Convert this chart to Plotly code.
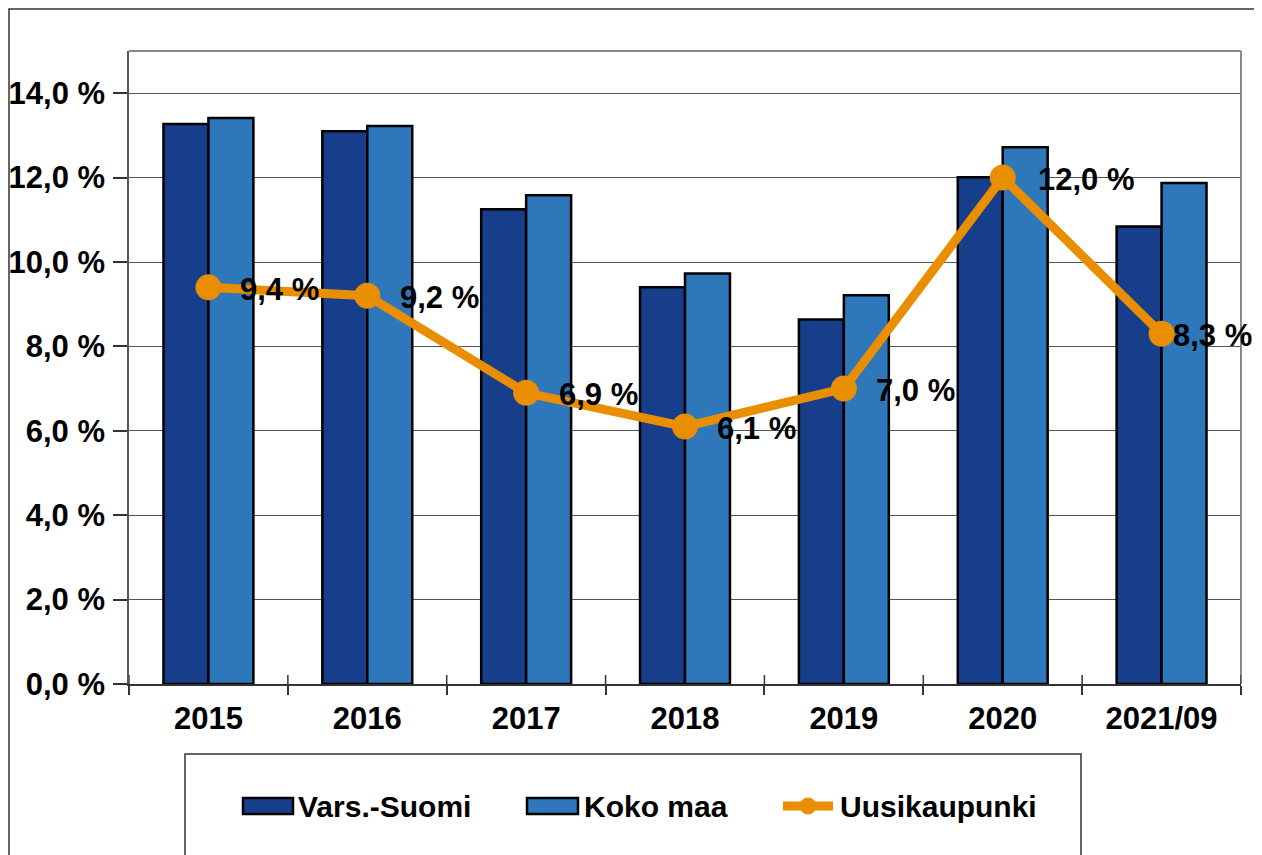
import plotly.graph_objects as go

categories = ["2015", "2016", "2017", "2018", "2019", "2020", "2021/09"]
vars_suomi = [13.27, 13.10, 11.25, 9.40, 8.64, 12.01, 10.84]
koko_maa = [13.41, 13.22, 11.58, 9.73, 9.21, 12.72, 11.87]
uusikaupunki = [9.4, 9.2, 6.9, 6.1, 7.0, 12.0, 8.3]
label_shift = [30, 31, 31, 30, 30, 33, 9]
y_ticks = [0, 2, 4, 6, 8, 10, 12, 14]
y_ticktext = ["0,0 %", "2,0 %", "4,0 %", "6,0 %", "8,0 %", "10,0 %", "12,0 %", "14,0 %"]

DARK = "#173E8A"
LIGHT = "#2E77BB"
ORANGE = "#E88E00"
FONT = dict(family="Liberation Sans, Arial, sans-serif", size=31, color="black", weight="bold")
LEGEND_FONT = dict(family="Liberation Sans, Arial, sans-serif", size=30, color="black", weight="bold")

xpos = list(range(len(categories)))
bounds = [i - 0.5 for i in xpos] + [len(categories) - 0.5]

fig = go.Figure()
fig.add_trace(go.Bar(x=xpos, y=vars_suomi, name="Vars.-Suomi",
                     marker=dict(color=DARK, line=dict(color="black", width=2.5))))
fig.add_trace(go.Bar(x=xpos, y=koko_maa, name="Koko maa",
                     marker=dict(color=LIGHT, line=dict(color="black", width=2.5))))
fig.add_trace(go.Scatter(x=xpos, y=uusikaupunki, name="Uusikaupunki", mode="lines+markers",
                         line=dict(color=ORANGE, width=9),
                         marker=dict(color=ORANGE, size=26)))

for i, v, s in zip(xpos, uusikaupunki, label_shift):
    fig.add_annotation(x=i, y=v, xref="x", yref="y", text=f"{v:.1f} %".replace(".", ","),
                       showarrow=False, xanchor="left", yanchor="middle",
                       xshift=s, yshift=-2, font=FONT)


# helpers: page pixel -> paper coords (plot area spans x 129..1241, y 51..684 on the page)
def px(p):
    return (p - 129) / 1112


def py(p):
    return (684 - p) / 633


shapes = [
    # outer frame
    dict(type="rect", xref="paper", yref="paper", x0=px(9), x1=px(1257), y0=py(900), y1=py(9),
         line=dict(color="#333333", width=1.5), layer="below"),
    # plot area top/right border
    dict(type="line", xref="paper", yref="paper", x0=0, x1=1, y0=1, y1=1,
         line=dict(color="#888888", width=2)),
    dict(type="line", xref="paper", yref="paper", x0=1, x1=1, y0=0, y1=1,
         line=dict(color="#888888", width=2)),
    # legend box
    dict(type="rect", xref="paper", yref="paper", x0=px(185), x1=px(1081), y0=py(900), y1=py(754),
         line=dict(color="#333333", width=1.5)),
    # legend swatches
    dict(type="rect", xref="paper", yref="paper", x0=px(243), x1=px(293), y0=py(814), y1=py(798),
         fillcolor=DARK, line=dict(color="black", width=2.5)),
    dict(type="rect", xref="paper", yref="paper", x0=px(527), x1=px(578), y0=py(814), y1=py(798),
         fillcolor=LIGHT, line=dict(color="black", width=2.5)),
    dict(type="line", xref="paper", yref="paper", x0=px(783), x1=px(833), y0=py(806), y1=py(806),
         line=dict(color=ORANGE, width=9)),
    dict(type="circle", xref="paper", yref="paper", x0=px(800), x1=px(816), y0=py(814), y1=py(798),
         fillcolor=ORANGE, line=dict(color=ORANGE, width=1)),
]
# inner part of the category boundary ticks (they cross the axis line)
for b in bounds:
    shapes.append(dict(type="line", xref="x", yref="paper", x0=b, x1=b, y0=0, y1=py(675),
                       line=dict(color="#333333", width=1.5)))

for name, xp in [("Vars.-Suomi", 296), ("Koko maa", 582), ("Uusikaupunki", 838)]:
    fig.add_annotation(xref="paper", yref="paper", x=px(xp), y=py(806),
                       text=name, showarrow=False, xanchor="left", yanchor="middle",
                       font=LEGEND_FONT)

fig.update_layout(
    width=1250, height=855,
    margin=dict(l=121, r=17, t=43, b=179, autoexpand=False),
    paper_bgcolor="white", plot_bgcolor="white",
    barmode="group", bargap=0.434, bargroupgap=0,
    showlegend=False,
    font=FONT,
    shapes=shapes,
)
fig.update_xaxes(range=[-0.5, len(categories) - 0.5], tickvals=xpos, ticktext=categories,
                 ticks="", showgrid=False,
                 showline=True, linecolor="#333333", linewidth=2, mirror=False, zeroline=False,
                 tickfont=FONT, ticklabelstandoff=6,
                 minor=dict(tickvals=bounds, ticks="outside", ticklen=9, tickcolor="#333333",
                            tickwidth=1.5, showgrid=False))
fig.update_yaxes(range=[0, 15], tickvals=y_ticks, ticktext=y_ticktext, ticks="outside",
                 ticklen=14, tickcolor="#333333", tickwidth=1.5,
                 showgrid=True, gridcolor="#555555", gridwidth=1,
                 showline=True, linecolor="#555555", linewidth=1.5, zeroline=False,
                 tickfont=FONT, ticklabelstandoff=2)

fig.write_html("out.html")
